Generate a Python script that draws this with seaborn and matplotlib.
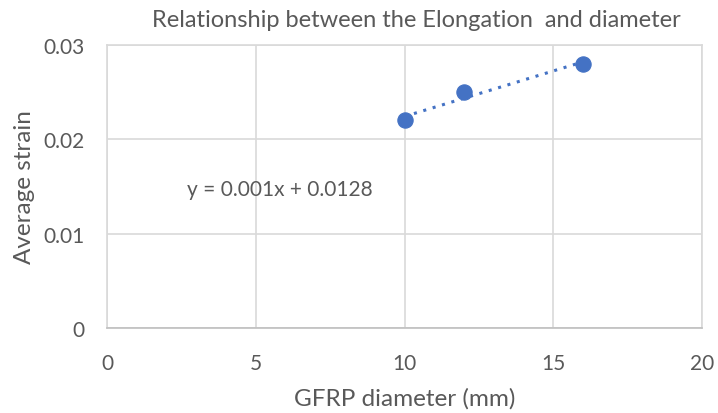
import numpy as np
import matplotlib
matplotlib.use("Agg")
import matplotlib.pyplot as plt
import seaborn as sns

# data
diameter = [10, 12, 16]
avg_strain = [0.022, 0.025, 0.028]
x_ticks = [0, 5, 10, 15, 20]
y_ticks = [0, 0.01, 0.02, 0.03]
y_tick_labels = ["0", "0.01", "0.02", "0.03"]

sns.set_style("white")
plt.rcParams["font.family"] = ["Lato", "DejaVu Sans"]

blue = "#4472C4"
grey_text = "#595959"
grid_col = "#D9D9D9"

fig = plt.figure(figsize=(7.18, 4.14), dpi=100)
ax = fig.add_axes([0.149, 0.205, 0.829, 0.684])

# linear trendline
slope, intercept = np.polyfit(diameter, avg_strain, 1)
xs = np.array([min(diameter), max(diameter)])
ax.plot(xs, slope * xs + intercept, linestyle=(0, (1, 2.2)), color=blue,
        linewidth=2.2, zorder=2)

sns.scatterplot(x=diameter, y=avg_strain, ax=ax, color=blue, s=120,
                edgecolor=blue, zorder=3)

ax.set_xlim(0, 20)
ax.set_ylim(0, 0.03)
ax.set_xticks(x_ticks)
ax.set_yticks(y_ticks)
ax.set_yticklabels(y_tick_labels)
ax.grid(True, color=grid_col, linewidth=1.2)
ax.set_axisbelow(True)
for side in ["top", "right", "left"]:
    ax.spines[side].set_color(grid_col)
    ax.spines[side].set_linewidth(1.2)
ax.spines["bottom"].set_color("#BFBFBF")
ax.spines["bottom"].set_linewidth(1.2)
ax.tick_params(length=0, labelsize=15, labelcolor=grey_text)
ax.tick_params(axis="x", pad=18)
ax.tick_params(axis="y", pad=16)

ax.set_title("Relationship between the Elongation  and diameter",
             fontsize=17, color=grey_text, pad=14, x=0.52)
ax.set_xlabel("GFRP diameter (mm)", fontsize=17.5, color=grey_text, labelpad=10)
ax.set_ylabel("Average strain", fontsize=17.5, color=grey_text, labelpad=6)

ax.text(0.291, 0.491, f"y = {slope:.3f}x + {intercept:.4f}", transform=ax.transAxes,
        fontsize=15, color=grey_text, ha="center", va="center")

fig.savefig("out.png", dpi=100)
